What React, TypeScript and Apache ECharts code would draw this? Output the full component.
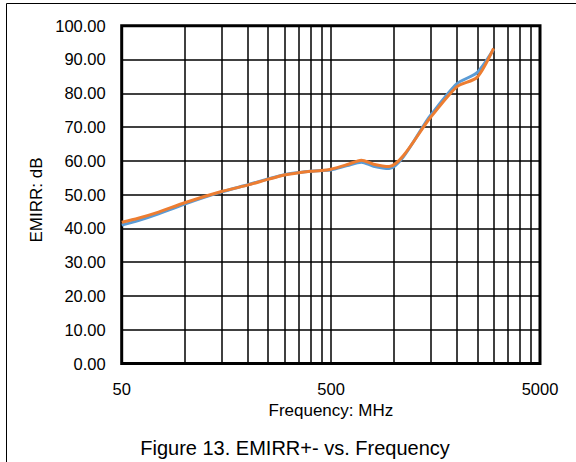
import React, { useEffect, useRef } from "react";
import * as echarts from "echarts";

// Measured rejection ratio vs. frequency (MHz / dB)
const frequencies = [50, 60, 75, 100, 150, 200, 250, 300, 350, 400, 450, 500, 600, 700, 800, 950, 1500, 2000, 2500, 3000];
const emirrBlue = [41.0, 42.3, 44.3, 47.2, 50.8, 52.9, 54.6, 55.9, 56.5, 56.9, 57.1, 57.3, 58.6, 59.6, 58.4, 57.7, 73.5, 82.8, 86.1, 93.0];
const emirrOrange = [41.8, 43.0, 44.8, 47.6, 50.9, 52.8, 54.5, 55.8, 56.5, 56.9, 57.1, 57.5, 58.9, 60.2, 59.0, 58.3, 72.9, 81.9, 84.7, 93.3];

const xRange = [50, 5000];
const yRange = [0, 100];
const yStep = 10;

const FONT = "'Liberation Sans', Arial, sans-serif";

export default function App() {
  const ref = useRef<HTMLDivElement>(null);

  useEffect(() => {
    if (!ref.current) return;
    const chart = echarts.init(ref.current, null, { renderer: "svg" });

    const pairs = (ys: number[]) => frequencies.map((f, i) => [f, ys[i]]);

    chart.setOption({
      animation: false,
      backgroundColor: "#fff",
      grid: {
        left: 121.7,
        right: 36,
        top: 25.7,
        bottom: 98.5,
        show: true,
        borderColor: "#000",
        borderWidth: 3,
      },
      xAxis: {
        type: "log",
        logBase: 10,
        min: xRange[0],
        max: xRange[1],
        interval: 1,
        axisLine: { show: false },
        axisTick: { show: false },
        axisLabel: {
          margin: 17,
          fontSize: 16.5,
          color: "#000",
          fontFamily: FONT,
          // decade ticks land on 5·10^n; drop log rounding noise
          formatter: (v: number) => String(Number(v.toPrecision(1))),
        },
        splitLine: { show: true, lineStyle: { color: "#000", width: 1.5 } },
        minorTick: { show: false, splitNumber: 9 },
        minorSplitLine: { show: true, lineStyle: { color: "#000", width: 1.5 } },
        name: "Frequency: MHz",
        nameLocation: "middle",
        nameGap: 36,
        nameTextStyle: { fontSize: 17, color: "#000", fontFamily: FONT },
      },
      yAxis: {
        type: "value",
        min: yRange[0],
        max: yRange[1],
        interval: yStep,
        axisLine: { show: false },
        axisTick: { show: false },
        axisLabel: {
          margin: 16,
          fontSize: 16.5,
          color: "#000",
          fontFamily: FONT,
          padding: [6, 0, 0, 0],
          formatter: (v: number) => v.toFixed(2),
        },
        splitLine: { show: true, lineStyle: { color: "#000", width: 1.5 } },
      },
      series: [
        {
          name: "EMIRR-",
          type: "line",
          data: pairs(emirrBlue),
          smooth: 0.25,
          showSymbol: false,
          lineStyle: { color: "#5B9BD5", width: 3 },
          z: 3,
        },
        {
          name: "EMIRR+",
          type: "line",
          data: pairs(emirrOrange),
          smooth: 0.25,
          showSymbol: false,
          lineStyle: { color: "#ED7D31", width: 3 },
          z: 4,
        },
      ],
      graphic: [
        {
          type: "rect",
          silent: true,
          shape: { x: 6.5, y: 3.5, width: 700, height: 600 },
          style: { fill: "none", stroke: "#000", lineWidth: 1 },
          z: 0,
        },
        {
          type: "text",
          x: 36,
          y: 200,
          rotation: Math.PI / 2,
          style: {
            text: "EMIRR: dB",
            fontSize: 17,
            fontFamily: FONT,
            fill: "#000",
            align: "center",
            verticalAlign: "middle",
          },
        },
        {
          type: "text",
          x: 295,
          y: 447.5,
          style: {
            text: "Figure 13. EMIRR+- vs. Frequency",
            fontSize: 20,
            fontFamily: FONT,
            fill: "#000",
            align: "center",
            verticalAlign: "middle",
          },
        },
      ],
    });

    return () => chart.dispose();
  }, []);

  return (
    <div
      ref={ref}
      style={{ position: "absolute", left: 0, top: 0, width: 576, height: 462, background: "#fff" }}
    />
  );
}
